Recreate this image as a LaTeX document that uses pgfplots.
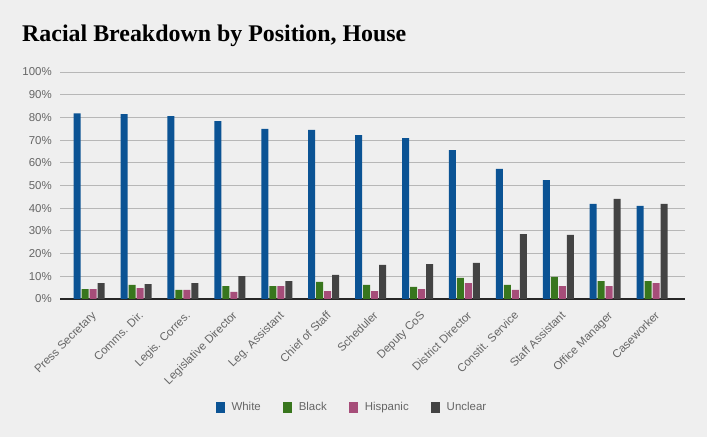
\documentclass[border=0pt]{standalone}
\usepackage{pgfplots}
\pgfplotsset{compat=1.18}
\usepackage{fontspec}
\setmainfont{Liberation Sans}
\newfontfamily\titlefont{Liberation Serif}
\definecolor{bg}{HTML}{EFEFEF}
\definecolor{cwhite}{HTML}{0B5394}
\definecolor{cblack}{HTML}{38761D}
\definecolor{chisp}{HTML}{A64D79}
\definecolor{cunc}{HTML}{434343}
\definecolor{gridc}{HTML}{B7B7B7}
\definecolor{lbl}{HTML}{666666}
\pgfplotstableread{
x white black hisp unclear
0 81.8 4.4 4.4 7.0
1 81.4 6.2 4.8 6.6
2 80.6 4.0 4.0 7.0
3 78.4 5.7 3.1 10.1
4 74.9 5.7 5.7 7.9
5 74.5 7.5 3.5 10.6
6 72.2 6.2 3.5 15.0
7 70.9 5.3 4.4 15.4
8 65.6 9.3 7.0 15.9
9 57.3 6.2 4.0 28.6
10 52.4 9.7 5.7 28.2
11 41.9 7.9 5.7 44.1
12 41.0 7.9 7.0 41.9
}\datatable
\begin{document}
\begin{tikzpicture}[x=1bp,y=1bp]
\fill[bg] (0,0) rectangle (707,437);
\node[anchor=base west, inner sep=0pt, font=\titlefont\bfseries\fontsize{24}{27}\selectfont] at (22,395) {Racial Breakdown by Position, House};
\begin{axis}[at={(60bp,138bp)}, anchor=south west, scale only axis,
  width=625bp, height=227bp,
  xmin=-0.62, xmax=12.7, ymin=0, ymax=100,
  axis line style={draw=none}, major tick length=0pt,
  ytick={0,10,...,100},
  yticklabel={\pgfmathprintnumber{\tick}\%},
  /pgf/number format/assume math mode=true,
  yticklabel style={text=lbl, font=\fontsize{11.5}{13}\selectfont, inner sep=0pt, xshift=-8bp},
  ymajorgrids, grid style={gridc, line width=0.8bp},
  extra y ticks={0}, extra y tick labels={}, extra y tick style={grid style={black!85, line width=1.2bp}},
  xtick={0,...,12},
  xticklabels={Press Secretary, Comms. Dir., Legis. Corres., Legislative Director, Leg. Assistant, Chief of Staff, Scheduler, Deputy CoS, District Director, Constit. Service, Staff Assistant, Office Manager, Caseworker},
  xticklabel style={rotate=45, anchor=north east, text=lbl, font=\fontsize{11.5}{13}\selectfont, inner sep=1pt, xshift=-5.5bp, yshift=-8.3bp},
  ybar, bar width=7bp,
  legend style={at={(0.467,-0.476)}, anchor=center, draw=none, fill=none, legend columns=4, text=lbl, font=\fontsize{11.5}{13}\selectfont,
    /tikz/every odd column/.append style={column sep=5bp},
    /tikz/every even column/.append style={column sep=20bp}},
  legend image code/.code={\fill[#1] (0bp,-5.5bp) rectangle (9bp,5.5bp);},
]
\addplot[fill=cwhite, draw=none, bar shift=-12bp] table[x=x, y=white] {\datatable};
\addplot[fill=cblack, draw=none, bar shift=-4bp] table[x=x, y=black] {\datatable};
\addplot[fill=chisp, draw=none, bar shift=4bp] table[x=x, y=hisp] {\datatable};
\addplot[fill=cunc, draw=none, bar shift=12bp] table[x=x, y=unclear] {\datatable};
\legend{White, Black, Hispanic, Unclear}
\end{axis}
\end{tikzpicture}
\end{document}
